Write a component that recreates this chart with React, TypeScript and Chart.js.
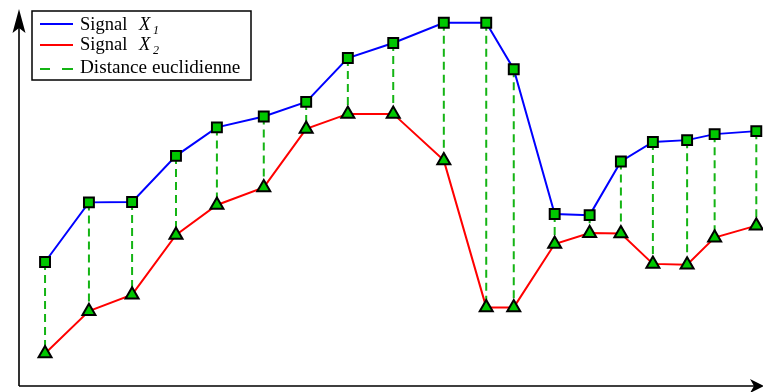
import React, { useEffect, useRef } from "react";
import { Chart, registerables } from "chart.js";

Chart.register(...registerables);

// Time positions of the samples (0–100 along the horizontal axis)
const times = [3.5, 9.4, 15.2, 21.1, 26.6, 32.9, 38.6, 44.2, 50.3, 57.1, 62.8, 66.5, 72.0, 76.7, 80.9, 85.2, 89.8, 93.5, 99.1];
// Signal X1 values
const signalX1 = [3.28, 4.87, 4.88, 6.11, 6.87, 7.16, 7.55, 8.72, 9.12, 9.66, 9.66, 8.42, 4.56, 4.53, 5.96, 6.48, 6.53, 6.69, 6.77];
// Signal X2 values
const signalX2 = [0.84, 1.97, 2.41, 4.0, 4.8, 5.27, 6.83, 7.23, 7.23, 5.99, 2.07, 2.07, 3.76, 4.05, 4.04, 3.23, 3.21, 3.93, 4.25];

const legendLabels = ["Signal", "Signal", "Distance euclidienne"];
const legendSubs = ["1", "2"];

const FONT = '"Liberation Serif", "Times New Roman", serif';

const axesPlugin = {
  id: "arrowAxes",
  beforeDatasetsDraw(chart: any) {
    const ctx = chart.ctx;
    const x0 = 19;
    const y0 = 386;
    ctx.save();
    ctx.strokeStyle = "#000";
    ctx.fillStyle = "#000";
    ctx.lineWidth = 1.6;
    ctx.beginPath();
    ctx.moveTo(x0, y0);
    ctx.lineTo(x0, 20);
    ctx.moveTo(x0, y0);
    ctx.lineTo(754, y0);
    ctx.stroke();
    // up arrow
    ctx.beginPath();
    ctx.moveTo(x0, 9);
    ctx.lineTo(x0 - 6.5, 33);
    ctx.lineTo(x0, 28);
    ctx.lineTo(x0 + 6.5, 33);
    ctx.closePath();
    ctx.fill();
    // right arrow
    ctx.beginPath();
    ctx.moveTo(764, y0);
    ctx.lineTo(750, y0 - 7);
    ctx.lineTo(754, y0);
    ctx.lineTo(750, y0 + 7);
    ctx.closePath();
    ctx.fill();
    ctx.restore();
  },
  afterDraw(chart: any) {
    const ctx = chart.ctx;
    ctx.save();
    // legend box
    ctx.fillStyle = "#fff";
    ctx.fillRect(32, 11, 219, 69);
    ctx.strokeStyle = "#000";
    ctx.lineWidth = 1.5;
    ctx.strokeRect(32, 11, 219, 69);
    const rows = [24, 45, 69];
    const bases = [29.5, 49.5, 73];
    const colors = ["#0000ff", "#ff0000", "#14b414"];
    ctx.lineWidth = 2;
    rows.forEach((ry, i) => {
      ctx.strokeStyle = colors[i];
      ctx.beginPath();
      if (i < 2) {
        ctx.moveTo(40, ry);
        ctx.lineTo(73, ry);
      } else {
        ctx.moveTo(40, ry);
        ctx.lineTo(50, ry);
        ctx.moveTo(62, ry);
        ctx.lineTo(73, ry);
      }
      ctx.stroke();
      ctx.fillStyle = "#000";
      ctx.textBaseline = "alphabetic";
      const base = bases[i];
      if (i < 2) {
        ctx.font = `18.5px ${FONT}`;
        ctx.fillText(legendLabels[i], 80, base);
        ctx.font = `italic 18.5px ${FONT}`;
        ctx.fillText("X", 139, base);
        ctx.font = `italic 12px ${FONT}`;
        ctx.fillText(legendSubs[i], 153, base + 4);
      } else {
        ctx.font = `19.2px ${FONT}`;
        ctx.fillText(legendLabels[i], 80, base);
      }
    });
    ctx.restore();
  },
};

export default function App() {
  const ref = useRef<HTMLCanvasElement | null>(null);
  useEffect(() => {
    if (!ref.current) return;
    const distData: any[] = [];
    times.forEach((t, i) => {
      distData.push({ x: t, y: signalX1[i] });
      distData.push({ x: t, y: signalX2[i] });
      distData.push({ x: t, y: null });
    });
    const chart = new Chart(ref.current, {
      type: "line",
      data: {
        datasets: [
          {
            label: "Distance euclidienne",
            data: distData,
            borderColor: "#14b414",
            borderWidth: 2,
            borderDash: [8, 5],
            pointRadius: 0,
            spanGaps: false,
            order: 3,
            clip: false as any,
          },
          {
            label: "Signal X1",
            data: times.map((t, i) => ({ x: t, y: signalX1[i] })),
            borderColor: "#0000ff",
            borderWidth: 2,
            pointStyle: "rect",
            pointRadius: 7,
            pointBorderWidth: 2,
            pointBorderColor: "#000",
            pointBackgroundColor: "#00c800",
            tension: 0,
            order: 1,
            clip: false as any,
          },
          {
            label: "Signal X2",
            data: times.map((t, i) => ({ x: t, y: signalX2[i] })),
            borderColor: "#ff0000",
            borderWidth: 2,
            pointStyle: "triangle",
            pointRadius: 7.5,
            pointBorderWidth: 2,
            pointBorderColor: "#000",
            pointBackgroundColor: "#00c800",
            tension: 0,
            order: 0,
            clip: false as any,
          },
        ],
      },
      options: {
        animation: false,
        responsive: false,
        maintainAspectRatio: false,
        layout: { autoPadding: false, padding: { left: 19, right: 0, top: 10, bottom: 7 } },
        plugins: { legend: { display: false }, tooltip: { enabled: false } },
        scales: {
          x: { type: "linear", min: 0, max: 100, display: false },
          y: { type: "linear", min: 0, max: 10, display: false },
        },
      },
      plugins: [axesPlugin],
    });
    return () => chart.destroy();
  }, []);
  return (
    <div style={{ position: "fixed", left: 0, top: 0, width: 763, height: 392, background: "#fff" }}>
      <canvas ref={ref} width={763} height={392} style={{ width: 763, height: 392, display: "block" }} />
    </div>
  );
}
